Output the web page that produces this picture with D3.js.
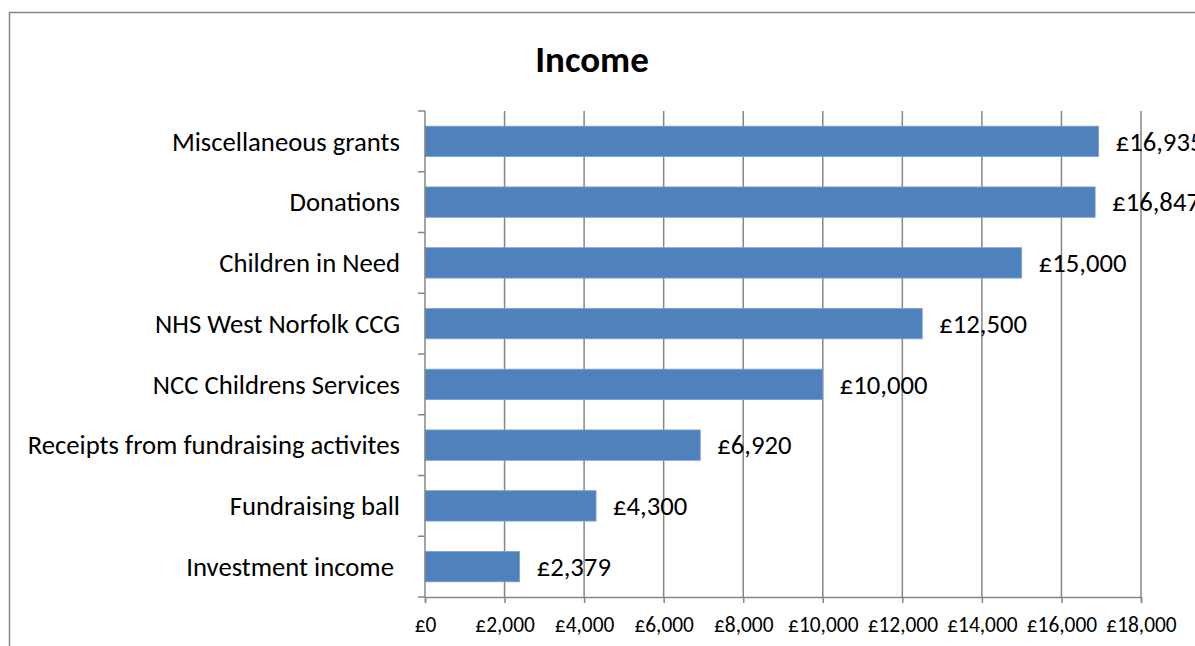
<!DOCTYPE html>
<html><head><meta charset="utf-8">
<script src="https://cdn.jsdelivr.net/npm/d3@7"></script>
<style>
html,body{margin:0;padding:0;background:#fff;}
svg{display:block;font-family:Carlito, Lato, "Open Sans", sans-serif;}
text{white-space:pre;}
</style></head>
<body>
<svg id="chart" width="1195" height="646"></svg>
<script>
const categories = ["Miscellaneous grants","Donations","Children in Need","NHS West Norfolk CCG","NCC Childrens Services","Receipts from fundraising activites","Fundraising ball","Investment income "];
const values = [16935, 16847, 15000, 12500, 10000, 6920, 4300, 2379];
const tickValues = [0,2000,4000,6000,8000,10000,12000,14000,16000,18000];
const title = "Income";

const svg = d3.select("#chart");
const W = 1195, H = 646;
const m = {left:425, right:1141, top:111, bottom:597};

// chart border
svg.append("path").attr("d", `M9.5,${H} V12.5 H${W}`).attr("fill","none").attr("stroke","#868686").attr("stroke-width",1.5);

svg.append("text").attr("x",592).attr("y",72).attr("text-anchor","middle")
  .attr("font-size",37).attr("font-weight","bold").attr("fill","#000").text(title);

const x = d3.scaleLinear().domain([0,18000]).range([m.left,m.right]);
const y = d3.scaleBand().domain(categories).range([m.top,m.bottom]).paddingInner(0.5).paddingOuter(0.25);
const yOuter = d3.scaleBand().domain(categories).range([m.top,m.bottom]);

// gridlines
svg.append("g").selectAll("line").data(tickValues.slice(1)).join("line")
  .attr("x1",d=>x(d)).attr("x2",d=>x(d)).attr("y1",m.top).attr("y2",m.bottom)
  .attr("stroke","#868686").attr("stroke-width",1.5);

// bars
svg.append("g").selectAll("rect").data(values).join("rect")
  .attr("x",x(0)).attr("y",(d,i)=>y(categories[i]))
  .attr("width",d=>x(d)-x(0)).attr("height",y.bandwidth())
  .attr("fill","#4F81BD").attr("stroke","#7EA1CF").attr("stroke-width",0.8);

// x axis
const fmt = d => "£" + d3.format(",")(d);
const xAxis = d3.axisBottom(x).tickValues(tickValues).tickFormat(fmt).tickSize(6).tickPadding(14);
const gx = svg.append("g").attr("transform",`translate(0,${m.bottom})`).call(xAxis);
gx.select(".domain").attr("stroke","#868686").attr("stroke-width",1.5);
gx.selectAll(".tick line").attr("stroke","#868686").attr("stroke-width",1.5);
gx.selectAll(".tick text").attr("font-size",21.4).attr("fill","#000").attr("font-family","Carlito, Lato, 'Open Sans', sans-serif");

// y axis
const gy = svg.append("g").attr("transform",`translate(${m.left},0)`);
gy.append("line").attr("x1",0).attr("x2",0).attr("y1",m.top).attr("y2",m.bottom).attr("stroke","#868686").attr("stroke-width",1.5);
const bounds = categories.map(c=>yOuter(c)).concat([m.bottom]);
gy.selectAll("line.t").data(bounds).join("line").attr("class","t")
  .attr("x1",-7).attr("x2",0).attr("y1",d=>d).attr("y2",d=>d).attr("stroke","#868686").attr("stroke-width",1.5);
gy.selectAll("text").data(categories).join("text")
  .attr("x",-25).attr("y",d=>y(d)+y.bandwidth()/2).attr("dy","0.35em")
  .attr("text-anchor","end").attr("font-size",26.7).attr("fill","#000").text(d=>d);

// data labels
svg.append("g").selectAll("text").data(values).join("text")
  .attr("x",d=>x(d)+17).attr("y",(d,i)=>y(categories[i])+y.bandwidth()/2).attr("dy","0.35em")
  .attr("font-size",26.7).attr("fill","#000").text(fmt);
</script>
</body></html>
